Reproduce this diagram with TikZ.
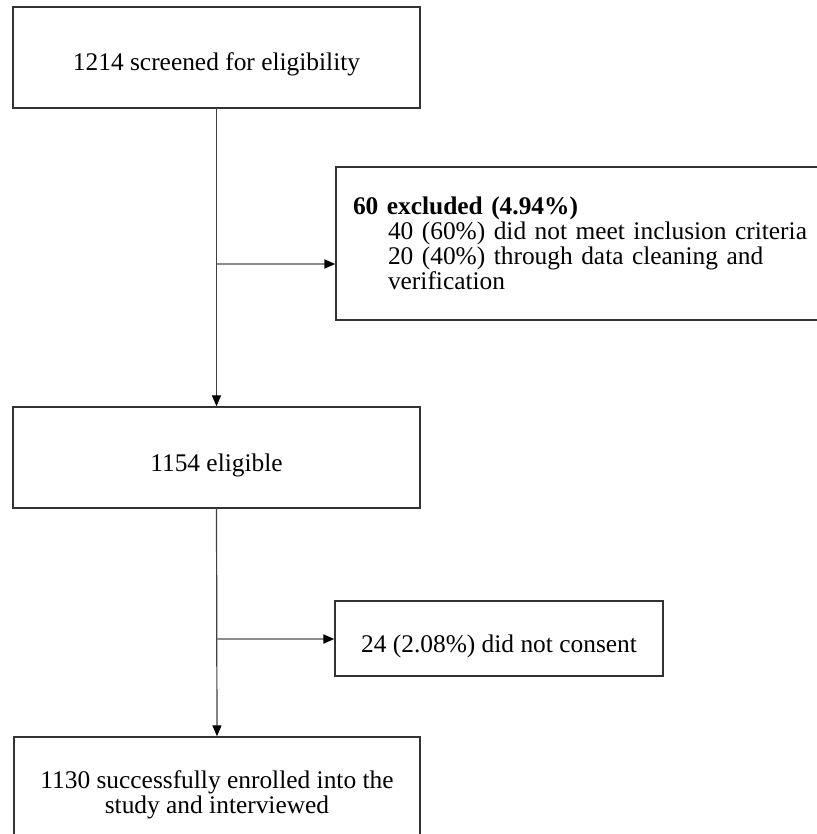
\documentclass[tikz,border=0pt]{standalone}
\usepackage{fontspec}
\setmainfont{Liberation Serif}
\usetikzlibrary{arrows.meta}
\begin{document}
\begin{tikzpicture}[x=0.5pt,y=-0.5pt,
  box/.style={draw=black!80,line width=0.7pt,rectangle,inner sep=0pt,font=\fontsize{12.7}{12.5}\selectfont},
  onel/.style={text height=15.5pt,text depth=2pt},
  arr/.style={-{Triangle[length=5.5pt,width=4.5pt,black]},line width=0.6pt,draw=black!75},
  branch/.style={-{Triangle[length=5.5pt,width=4.5pt,black]},line width=1pt,draw=black!45}]
\clip (0,0) rectangle (817,834);
\node[box,onel,minimum width=203.5pt,minimum height=50.5pt] (b1) at (216.5,57.5) {1214 screened for eligibility};
\node[box,onel,minimum width=203.5pt,minimum height=50.5pt] (b3) at (216.5,457.5) {1154 eligible};
\node[box,minimum width=247pt,minimum height=76.5pt,inner xsep=8.5pt,text width=230pt,align=left] (b2) at (583,243.5)
  {\textbf{60 excluded (4.94\%)}\\
   \hspace*{17.5pt}40 (60\%) did not meet inclusion criteria\\
   \hspace*{17.5pt}20 (40\%) through data cleaning and\\
   \hspace*{17.5pt}verification};
\node[box,onel,text height=16pt,minimum width=164pt,minimum height=37.5pt] (b4) at (499,638.5) {24 (2.08\%) did not consent};
\node[box,minimum width=203pt,minimum height=58pt,align=center] (b5) at (217,795) {1130 successfully enrolled into the\\study and interviewed};
\draw[arr] (b1.south) -- (b3.north);
\draw[arr] (b3.south) -- (b5.north);
\coordinate (j1) at (216.5,264);
\coordinate (j2) at (216.5,639);
\draw[branch] (j1) -- (j1 -| b2.west);
\draw[branch] (j2) -- (j2 -| b4.west);
\end{tikzpicture}
\end{document}
